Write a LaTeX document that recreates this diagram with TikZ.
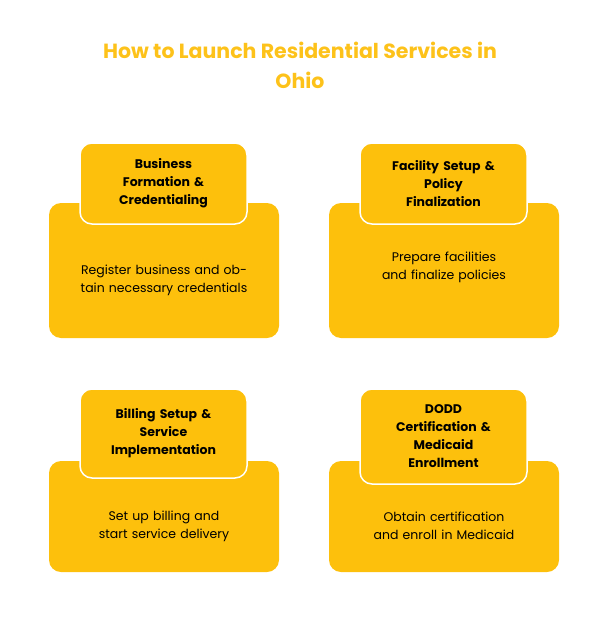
\documentclass[tikz,border=0pt]{standalone}
\usepackage{fontspec}
\setmainfont{Poppins}
\usetikzlibrary{positioning}
\definecolor{amber}{HTML}{FDC00C}
\definecolor{titleamber}{HTML}{FDC21A}

\tikzset{
  body/.style={rectangle,rounded corners=12pt,fill=amber,minimum width=230pt,inner sep=0pt},
  tab/.style={rectangle,rounded corners=12pt,fill=amber,draw=white,line width=1.5pt,minimum width=167pt,text width=125pt,align=center,font=\bfseries\fontsize{12.5}{18}\selectfont},
  note/.style={text width=175pt,align=center,font=\fontsize{12.5}{18}\selectfont}
}

\begin{document}
\begin{tikzpicture}[x=1pt,y=-1pt]
		\useasboundingbox (0,0) rectangle (608,624);
		
		\node[text=titleamber,font=\bfseries\fontsize{20.5}{30}\selectfont,align=center] (title) at (300,65) {How to Launch Residential Services in\\Ohio};
		
		% upper row
		\node[body,minimum height=135pt] (B1) at (164,270.5) {};
		\node[body,minimum height=135pt] (B2) at (444,270.5) {};
		\node[tab,minimum height=81pt] (T1) at (163.5,183.5) {\hyphenpenalty=10000 Business\\ Formation \&\\ Credentialing};
		\node[tab,minimum height=81pt] (T2) at (443.5,183.5) {\hyphenpenalty=10000 Facility Setup \&\\ Policy\\ Finalization};
		\node[note] (N1) at (164,280) {\hyphenpenalty=10000 Register business and obtain necessary credentials};
		\node[note] (N2) at (444,267) {\hyphenpenalty=10000 Prepare facilities and finalize policies};
		
		% lower row
		\node[body,minimum height=111pt] (B3) at (164,516.5) {};
		\node[body,minimum height=111pt] (B4) at (444,516.5) {};
		\node[tab,minimum height=89pt] (T3) at (163.5,433.5) {\hyphenpenalty=10000 Billing Setup \&\\ Service\\ Implementation};
		\node[tab,minimum height=95pt] (T4) at (443.5,436.5) {\hyphenpenalty=10000 DODD\\ Certification \&\\ Medicaid\\ Enrollment};
		\node[note] (N3) at (164,526) {\hyphenpenalty=10000 Set up billing and start service delivery};
		\node[note] (N4) at (444,526) {\hyphenpenalty=10000 Obtain certification and enroll in Medicaid};
		
\end{tikzpicture}
\end{document}
